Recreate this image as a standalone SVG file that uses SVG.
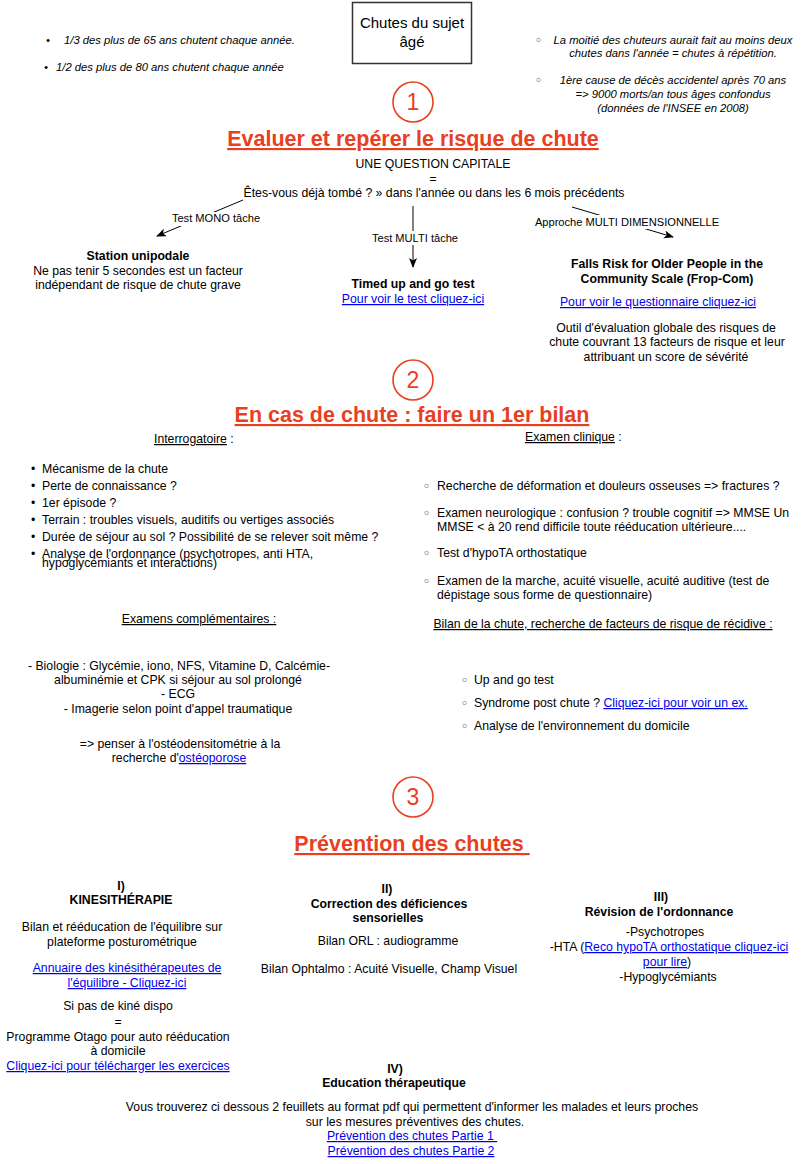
<svg xmlns="http://www.w3.org/2000/svg" width="804" height="1164" viewBox="0 0 804 1164">
<defs>
<style>
text{font-family:"Liberation Sans",Arial,sans-serif;font-size:12.25px;fill:#000}
.c{text-anchor:middle}
.b{font-weight:bold}
.i{font-style:italic;font-size:11.25px}
.lbl{font-size:11.1px;text-anchor:middle}
.t{font-weight:bold;font-size:21.5px;fill:#e8401e;text-anchor:middle;text-decoration:underline}
.num{font-size:23px;fill:#e8401e;text-anchor:middle}
.ring{fill:none;stroke:#e8401e;stroke-width:1.6}
.a{fill:#0000ee;text-decoration:underline}
.u{text-decoration:underline}
.o{font-family:"DejaVu Sans",sans-serif;font-size:11px;fill:#333;font-style:normal;font-weight:bold}
.con{stroke:#000;stroke-width:1;fill:none;marker-end:url(#ah)}
</style>
<marker id="ah" markerUnits="userSpaceOnUse" markerWidth="12" markerHeight="10" refX="9" refY="4" orient="auto">
<path d="M0,0 L10,4 L0,8 L2.5,4 z" fill="#000"/>
</marker>
</defs>
<rect width="804" height="1164" fill="#fff"/>

<g id="facts-left">
<text x="46" y="44" class="i">•</text>
<text x="64" y="44" class="i">1/3 des plus de 65 ans chutent chaque année.</text>
<text x="44" y="71" class="i">•</text>
<text x="56" y="71" class="i">1/2 des plus de 80 ans chutent chaque année</text>
</g>

<g id="root">
<rect x="352.5" y="2.5" width="119" height="61" fill="#fff" stroke="#333" stroke-width="1.5"/>
<text x="412" y="28" class="c" style="font-size:15px">Chutes du sujet</text>
<text x="412" y="47" class="c" style="font-size:15px">âgé</text>
</g>

<g id="facts-right">
<text x="535" y="44" class="o">◦</text>
<text x="673" y="44" class="i c">La moitié des chuteurs aurait fait au moins deux</text>
<text x="673" y="57" class="i c">chutes dans l'année = chutes à répétition.</text>
<text x="535" y="84" class="o">◦</text>
<text x="673" y="84" class="i c">1ère cause de décès accidentel après 70 ans</text>
<text x="673" y="98" class="i c">=&gt; 9000 morts/an tous âges confondus</text>
<text x="673" y="112" class="i c">(données de l'INSEE en 2008)</text>
</g>

<g id="section1">
<circle cx="413" cy="102" r="20" class="ring"/>
<text x="413" y="110" class="num">1</text>
<text x="413" y="146" class="t">Evaluer et repérer le risque de chute</text>
</g>

<g id="question">
<text x="433" y="168" class="c">UNE QUESTION CAPITALE</text>
<text x="433" y="183" class="c">=</text>
<text x="434" y="197" class="c">Êtes-vous déjà tombé ? » dans l'année ou dans les 6 mois précédents</text>
</g>

<g id="connectors">
<line x1="243" y1="200" x2="157" y2="236" class="con"/>
<rect x="171" y="212" width="89" height="14" fill="#fff"/>
<text x="216" y="222" class="lbl">Test MONO tâche</text>
<line x1="413" y1="206" x2="413" y2="267" class="con"/>
<rect x="371" y="231" width="88" height="14" fill="#fff"/>
<text x="415" y="242" class="lbl">Test MULTI tâche</text>
<line x1="572" y1="207" x2="673" y2="237" class="con"/>
<rect x="533" y="215" width="189" height="14" fill="#fff"/>
<text x="627" y="226" class="lbl">Approche MULTI DIMENSIONNELLE</text>
</g>

<g id="mono">
<text x="138" y="260" class="c b">Station unipodale</text>
<text x="138" y="275" class="c">Ne pas tenir 5 secondes est un facteur</text>
<text x="138" y="289" class="c">indépendant de risque de chute grave</text>
</g>

<g id="multi">
<text x="413" y="288" class="c b">Timed up and go test</text>
<text x="413" y="303" class="c a">Pour voir le test cliquez-ici</text>
</g>

<g id="fropcom">
<text x="667" y="268" class="c b">Falls Risk for Older People in the</text>
<text x="667" y="283" class="c b">Community Scale (Frop-Com)</text>
<text x="658" y="306" class="c a">Pour voir le questionnaire cliquez-ici</text>
<text x="666" y="332" class="c">Outil d'évaluation globale des risques de</text>
<text x="667" y="346" class="c">chute couvrant 13 facteurs de risque et leur</text>
<text x="666" y="361" class="c">attribuant un score de sévérité</text>
</g>

<g id="section2">
<circle cx="413" cy="380" r="20" class="ring"/>
<text x="413" y="388" class="num">2</text>
<text x="412" y="422" class="t">En cas de chute : faire un 1er bilan</text>
</g>

<g id="interrogatoire">
<text x="154" y="443"><tspan class="u">Interrogatoire</tspan> :</text>
<text x="31" y="473">•</text><text x="42" y="473">Mécanisme de la chute</text>
<text x="31" y="490">•</text><text x="42" y="490">Perte de connaissance ?</text>
<text x="31" y="507">•</text><text x="42" y="507">1er épisode ?</text>
<text x="31" y="524">•</text><text x="42" y="524">Terrain : troubles visuels, auditifs ou vertiges associés</text>
<text x="31" y="541">•</text><text x="42" y="541">Durée de séjour au sol ? Possibilité de se relever soit même ?</text>
<text x="31" y="558">•</text><text x="42" y="558">Analyse de l'ordonnance (psychotropes, anti HTA,</text>
<text x="42" y="567">hypoglycémiants et interactions)</text>
</g>

<g id="examen-clinique">
<text x="525" y="441"><tspan class="u">Examen clinique</tspan> :</text>
<text x="423" y="490" class="o">◦</text><text x="437" y="490">Recherche de déformation et douleurs osseuses =&gt; fractures ?</text>
<text x="423" y="517" class="o">◦</text><text x="437" y="517">Examen neurologique : confusion ? trouble cognitif =&gt; MMSE Un</text>
<text x="437" y="531">MMSE &lt; à 20 rend difficile toute rééducation ultérieure....</text>
<text x="423" y="557" class="o">◦</text><text x="437" y="557">Test d'hypoTA orthostatique</text>
<text x="423" y="585" class="o">◦</text><text x="437" y="585">Examen de la marche, acuité visuelle, acuité auditive (test de</text>
<text x="437" y="599">dépistage sous forme de questionnaire)</text>
</g>

<g id="examens-complementaires">
<text x="199" y="623" class="c u">Examens complémentaires :</text>
<text x="179" y="670" class="c">- Biologie : Glycémie, iono, NFS, Vitamine D, Calcémie-</text>
<text x="178" y="684" class="c">albuminémie et CPK si séjour au sol prolongé</text>
<text x="178" y="698" class="c">- ECG</text>
<text x="178" y="713" class="c">- Imagerie selon point d'appel traumatique</text>
<text x="180" y="748" class="c">=&gt; penser à l'ostéodensitométrie à la</text>
<text x="179" y="762" class="c">recherche d'<tspan class="a">ostéoporose</tspan></text>
</g>

<g id="bilan-chute">
<text x="603" y="628" class="c u">Bilan de la chute, recherche de facteurs de risque de récidive :</text>
<text x="461" y="684" class="o">◦</text><text x="474" y="684">Up and go test</text>
<text x="461" y="707" class="o">◦</text><text x="474" y="707">Syndrome post chute ? <tspan class="a">Cliquez-ici pour voir un ex.</tspan></text>
<text x="461" y="730" class="o">◦</text><text x="474" y="730">Analyse de l'environnement du domicile</text>
</g>

<g id="section3">
<circle cx="413" cy="797" r="20" class="ring"/>
<text x="413" y="805" class="num">3</text>
<text x="412" y="851" class="t" style="white-space:pre">Prévention des chutes </text>
</g>

<g id="kine">
<text x="121" y="890" class="c b">I)</text>
<text x="121" y="904" class="c b">KINESITHÉRAPIE</text>
<text x="122" y="931" class="c">Bilan et rééducation de l'équilibre sur</text>
<text x="122" y="946" class="c">plateforme posturométrique</text>
<text x="127" y="972" class="c a">Annuaire des kinésithérapeutes de</text>
<text x="127" y="987" class="c a">l'équilibre - Cliquez-ici</text>
<text x="118" y="1010" class="c">Si pas de kiné dispo</text>
<text x="118" y="1026" class="c">=</text>
<text x="118" y="1041" class="c">Programme Otago pour auto rééducation</text>
<text x="118" y="1055" class="c">à domicile</text>
<text x="118" y="1070" class="c a">Cliquez-ici pour télécharger les exercices</text>
</g>

<g id="sensorielles">
<text x="387" y="893" class="c b">II)</text>
<text x="389" y="908" class="c b">Correction des déficiences</text>
<text x="388" y="922" class="c b">sensorielles</text>
<text x="388" y="945" class="c">Bilan ORL : audiogramme</text>
<text x="389" y="973" class="c">Bilan Ophtalmo : Acuité Visuelle, Champ Visuel</text>
</g>

<g id="ordonnance">
<text x="661" y="901" class="c b">III)</text>
<text x="659" y="916" class="c b">Révision de l'ordonnance</text>
<text x="665" y="936" class="c">-Psychotropes</text>
<text x="669" y="951" class="c">-HTA (<tspan class="a">Reco hypoTA orthostatique cliquez-ici</tspan></text>
<text x="667" y="966" class="c"><tspan class="a">pour lire</tspan>)</text>
<text x="668" y="981" class="c">-Hypoglycémiants</text>
</g>

<g id="education">
<text x="395" y="1073" class="c b">IV)</text>
<text x="394" y="1087" class="c b">Education thérapeutique</text>
<text x="412" y="1111" class="c">Vous trouverez ci dessous 2 feuillets au format pdf qui permettent d'informer les malades et leurs proches</text>
<text x="415" y="1126" class="c">sur les mesures préventives des chutes.</text>
<text x="412" y="1140" class="c a" style="white-space:pre">Prévention des chutes Partie 1 </text>
<text x="411" y="1155" class="c a">Prévention des chutes Partie 2</text>
</g>
</svg>
